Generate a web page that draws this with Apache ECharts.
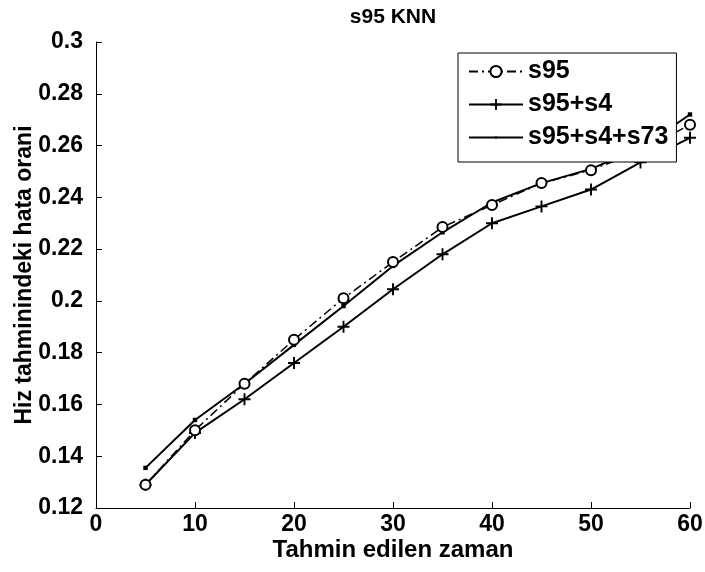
<!DOCTYPE html>
<html>
<head>
<meta charset="utf-8">
<script src="https://cdn.jsdelivr.net/npm/echarts@6/dist/echarts.min.js"></script>
<style>html,body{margin:0;padding:0;background:#fff}#c{width:705px;height:572px}</style>
</head>
<body>
<div id="c"></div>
<script>
const xValues = [5, 10, 15, 20, 25, 30, 35, 40, 45, 50, 55, 60];
const s95 = [0.129, 0.150, 0.168, 0.185, 0.201, 0.215, 0.2285, 0.237, 0.2455, 0.2505, 0.258, 0.268];
const s95s4 = [0.129, 0.149, 0.162, 0.176, 0.190, 0.2045, 0.218, 0.230, 0.2365, 0.243, 0.2535, 0.263];
const s95s4s73 = [0.1355, 0.154, 0.168, 0.183, 0.198, 0.2135, 0.2265, 0.238, 0.2455, 0.251, 0.259, 0.272];
const seriesNames = ['s95', 's95+s4', 's95+s4+s73'];
const titleText = 's95 KNN';
const xName = 'Tahmin edilen zaman';
const yName = 'Hiz tahminindeki hata orani';

const FONT = "'Liberation Sans', Arial, sans-serif";
const pair = arr => xValues.map((x, i) => [x, arr[i]]);
const plusPath = 'path://M4.2,0H5.8V4.2H10V5.8H5.8V10H4.2V5.8H0V4.2H4.2Z';
const dotPath = 'path://M0,0M10,10M4,4H6V6H4Z';

const chart = echarts.init(document.getElementById('c'), null, {renderer: 'canvas'});
chart.setOption({
  animation: false,
  backgroundColor: '#fff',
  graphic: [{
    type: 'text', x: 393, y: 7,
    style: {text: titleText, fontFamily: FONT, fontWeight: 'bold', fontSize: 21, fill: '#000', align: 'center', verticalAlign: 'top'}
  }],
  grid: {left: 96, right: 15, top: 42, bottom: 64, containLabel: false, outerBoundsMode: 'none'},
  legend: {
    orient: 'vertical', left: 458, top: 53,
    padding: [6, 8, 12, 10], itemGap: 8, itemWidth: 54, itemHeight: 14,
    borderColor: '#000', borderWidth: 1, backgroundColor: '#fff',
    textStyle: {fontFamily: FONT, fontWeight: 'bold', fontSize: 25, color: '#000', lineHeight: 22},
    data: seriesNames
  },
  xAxis: {
    type: 'value', min: 0, max: 60, interval: 10,
    name: xName, nameLocation: 'middle', nameGap: 30, nameMoveOverlap: false,
    nameTextStyle: {fontFamily: FONT, fontWeight: 'bold', fontSize: 24, color: '#000'},
    axisLine: {lineStyle: {color: '#000', width: 1}},
    axisTick: {inside: true, length: 6, lineStyle: {color: '#000'}},
    axisLabel: {fontFamily: FONT, fontWeight: 'bold', fontSize: 23, color: '#000', margin: 5},
    splitLine: {show: false}
  },
  yAxis: {
    type: 'value', min: 0.12, max: 0.3, interval: 0.02,
    name: yName, nameLocation: 'middle', nameGap: 60, nameRotate: 90, nameMoveOverlap: false,
    nameTextStyle: {fontFamily: FONT, fontWeight: 'bold', fontSize: 23, color: '#000'},
    axisLine: {lineStyle: {color: '#000', width: 1}},
    axisTick: {inside: true, length: 6, lineStyle: {color: '#000'}},
    axisLabel: {fontFamily: FONT, fontWeight: 'bold', fontSize: 23, color: '#000', margin: 13,
      formatter: v => String(Math.round(v * 100) / 100)},
    splitLine: {show: false}
  },
  series: [
    {
      name: seriesNames[0], type: 'line', data: pair(s95), z: 3,
      symbol: 'emptyCircle', symbolSize: 10,
      lineStyle: {color: '#000', width: 1.5, type: [9, 4, 2, 4]},
      itemStyle: {color: '#000', borderColor: '#000', borderWidth: 1.5}
    },
    {
      name: seriesNames[1], type: 'line', data: pair(s95s4), z: 2,
      symbol: plusPath, symbolSize: 12,
      lineStyle: {color: '#000', width: 2},
      itemStyle: {color: '#000'}
    },
    {
      name: seriesNames[2], type: 'line', data: pair(s95s4s73), z: 2,
      symbol: dotPath, symbolSize: 22,
      lineStyle: {color: '#000', width: 2},
      itemStyle: {color: '#000'}
    }
  ]
});
</script>
</body>
</html>
